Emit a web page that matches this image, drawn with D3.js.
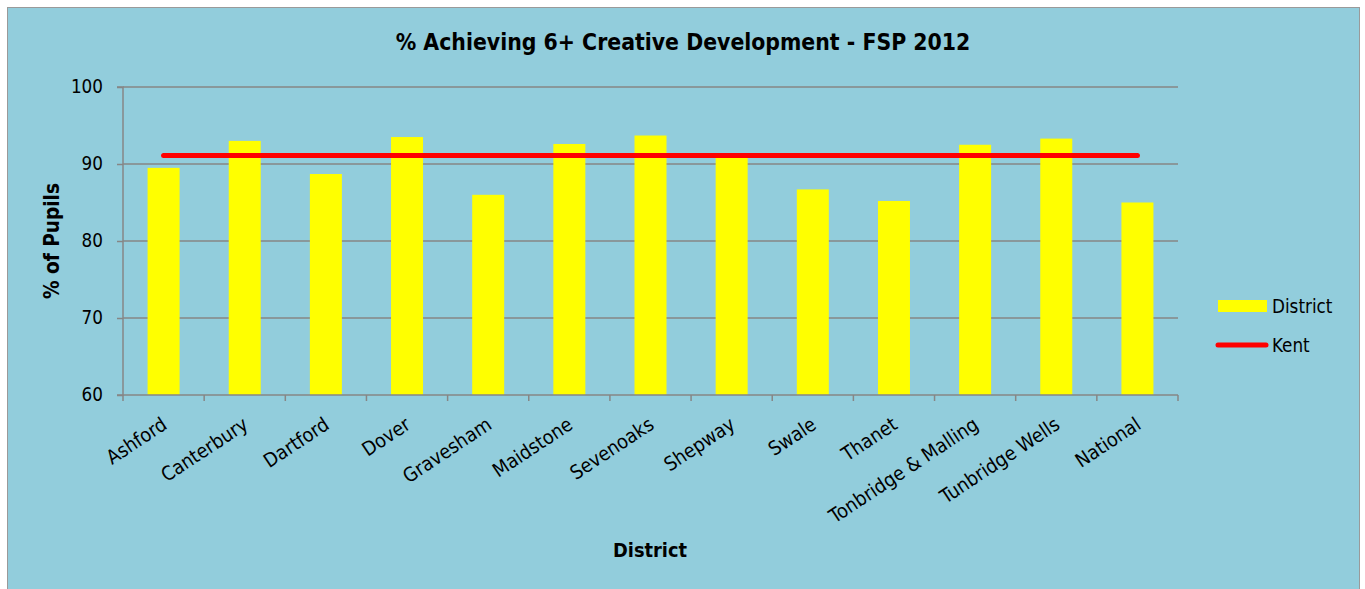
<!DOCTYPE html>
<html><head><meta charset="utf-8">
<script src="https://cdn.jsdelivr.net/npm/d3@7"></script>
<style>
html,body{margin:0;padding:0;background:#fff;}
text{font-family:"DejaVu Sans Condensed","DejaVu Sans",sans-serif;fill:#000;}
</style></head>
<body><svg id="c" width="1365" height="589"></svg>
<script>
const categories = ["Ashford","Canterbury","Dartford","Dover","Gravesham","Maidstone","Sevenoaks","Shepway","Swale","Thanet","Tonbridge & Malling","Tunbridge Wells","National"];
const districtValues = [89.5,93.0,88.7,93.5,86.0,92.6,93.7,91.3,86.7,85.2,92.5,93.3,85.0];
const kentValues = [91.1,91.1,91.1,91.1,91.1,91.1,91.1,91.1,91.1,91.1,91.1,91.1,91.1];
const yTicks = [60,70,80,90,100];
const title = "% Achieving 6+ Creative Development - FSP 2012";
const seriesNames = ["District","Kent"];

const FS = 18.7;
const svg = d3.select("#c");
svg.append("rect").attr("x",7.5).attr("y",7.5).attr("width",1352).attr("height",590)
  .attr("fill","#92CDDC").attr("stroke","#9a9a9a").attr("stroke-width",1);

function fit(sel, target){
  const n = sel.node(); const fs = parseFloat(sel.attr("font-size"));
  const w = n.getComputedTextLength();
  sel.attr("font-size", fs*target/w);
}

const L=123, R=1178, T=87, B=395;
const xb = d3.scaleBand().domain(categories).range([L,R]);
const y = d3.scaleLinear().domain([60,100]).range([B,T]);

// gridlines
svg.append("g").selectAll("line").data(yTicks.filter(d=>d>60)).join("line")
  .attr("x1",L).attr("x2",R).attr("y1",d=>y(d)).attr("y2",d=>y(d))
  .attr("stroke","#868686").attr("stroke-width",1.5);

// bars
svg.append("g").selectAll("rect").data(districtValues).join("rect")
  .attr("x",(d,i)=>xb(categories[i])+xb.bandwidth()/2-16).attr("width",32)
  .attr("y",d=>y(d)).attr("height",d=>B-y(d)).attr("fill","#FFFF00");

// y axis
const yAxis = d3.axisLeft(y).tickValues(yTicks).tickSize(6).tickPadding(14);
const gy = svg.append("g").attr("transform",`translate(${L},0)`).call(yAxis);
gy.select(".domain").attr("stroke","#868686").attr("stroke-width",1.5).attr("d",`M-6,${T}H0V${B}H-6`);
gy.selectAll(".tick line").attr("stroke","#868686").attr("stroke-width",1.5);
gy.selectAll(".tick text").attr("font-size",FS).attr("font-family","DejaVu Sans Condensed, DejaVu Sans, sans-serif").attr("fill","#000");

// x axis
const gx = svg.append("g").attr("transform",`translate(0,${B})`);
gx.append("line").attr("x1",L).attr("x2",R).attr("stroke","#868686").attr("stroke-width",1.5);
gx.selectAll("line.t").data(d3.range(categories.length+1)).join("line").attr("class","t")
  .attr("x1",i=>L+i*xb.step()).attr("x2",i=>L+i*xb.step()).attr("y1",0).attr("y2",6)
  .attr("stroke","#868686").attr("stroke-width",1.5);
gx.selectAll("text").data(categories).join("text")
  .attr("transform",d=>`translate(${xb(d)+xb.bandwidth()/2-3},${21}) rotate(-33.5)`)
  .attr("text-anchor","end").attr("dy","0.72em").attr("font-size",19.6).text(d=>d);

// Kent line
const line = d3.line().x((d,i)=>xb(categories[i])+xb.bandwidth()/2).y(d=>y(d));
svg.append("path").datum(kentValues).attr("d",line).attr("fill","none")
  .attr("stroke","#FF0000").attr("stroke-width",5).attr("stroke-linecap","round");

// title
const tt = svg.append("text").attr("x",683).attr("y",50).attr("text-anchor","middle")
  .attr("font-family","DejaVu Sans, sans-serif")
  .attr("font-size",18).attr("font-weight","bold").text(title);
fit(tt,575);
// axis titles
const yl = svg.append("text").attr("transform","translate(59,241) rotate(-90)").attr("text-anchor","middle")
  .attr("font-family","DejaVu Sans, sans-serif")
  .attr("font-size",17).attr("font-weight","bold").text("% of Pupils");
fit(yl,116);
const xl = svg.append("text").attr("x",650).attr("y",557).attr("text-anchor","middle")
  .attr("font-family","DejaVu Sans, sans-serif")
  .attr("font-size",17).attr("font-weight","bold").text("District");
fit(xl,74);

// legend
svg.append("rect").attr("x",1218).attr("y",300).attr("width",49).attr("height",12).attr("fill","#FFFF00");
svg.append("text").attr("x",1272).attr("y",313).attr("font-size",FS).text(seriesNames[0]);
svg.append("line").attr("x1",1218).attr("x2",1266).attr("y1",345).attr("y2",345)
  .attr("stroke","#FF0000").attr("stroke-width",5).attr("stroke-linecap","round");
svg.append("text").attr("x",1272).attr("y",352).attr("font-size",FS).text(seriesNames[1]);
</script></body></html>
